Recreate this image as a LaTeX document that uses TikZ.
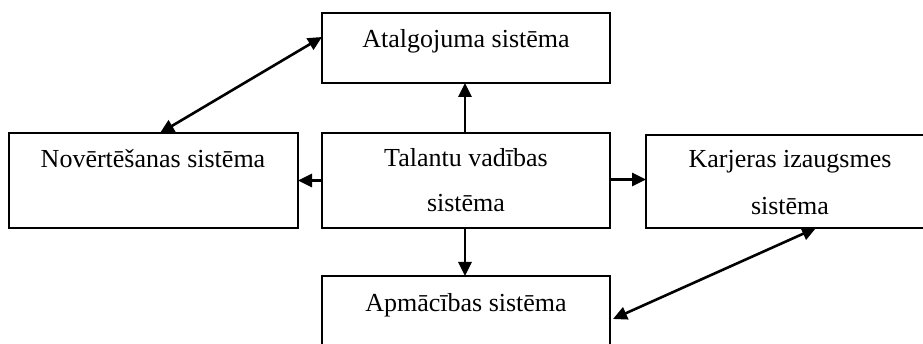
\documentclass[tikz,border=0pt]{standalone}
\usepackage{fontspec}
\setmainfont{Liberation Serif}
\usetikzlibrary{arrows.meta}
\begin{document}
\begin{tikzpicture}[x=1pt,y=-1pt,
  sysbox/.style={draw, line width=1.6pt, inner sep=0pt, outer sep=0pt, fill=white},
  label/.style={anchor=base, inner sep=0pt, font=\fontsize{26}{30}\selectfont},
  tip/.tip={Triangle[length=14pt,width=13pt]},
  link/.style={line width=2.6pt, -tip},
  both/.style={line width=2.6pt, tip-tip}]
  \useasboundingbox (0,0) rectangle (923,344);
  \clip (0,0) rectangle (923,344);

  % boxes
  \node[sysbox, minimum width=288pt, minimum height=70pt] (pay) at (466,48) {};
  \node[sysbox, minimum width=289pt, minimum height=95pt] (eval) at (153.5,180.5) {};
  \node[sysbox, minimum width=288pt, minimum height=95pt] (core) at (466,180.5) {};
  \node[sysbox, minimum width=288pt, minimum height=93pt] (career) at (790,181.5) {};
  \node[sysbox, minimum width=288pt, minimum height=74pt] (train) at (466,313) {};

  % texts
  \node[label] (payT) at (466,48) {Atalgojuma sistēma};
  \node[label] (evalT) at (153,168) {Novērtēšanas sistēma};
  \node[label] (coreT1) at (466,167) {Talantu vadības};
  \node[label] (coreT2) at (466,212) {sistēma};
  \node[label] (careerT1) at (790,168) {Karjeras izaugsmes};
  \node[label] (careerT2) at (790,215) {sistēma};
  \node[label] (trainT) at (466,312) {Apmācības sistēma};

  % connectors from the central system
  \draw[link] ([xshift=-1pt]core.north) -- ([xshift=-1pt]pay.south);
  \draw[link] ([xshift=-1pt]core.south) -- ([xshift=-1pt]train.north);
  \draw[link] (core.west) -- (core.west -| eval.east);
  \draw[link] ([yshift=1pt]core.east) -- ([yshift=1pt]core.east -| career.west);

  % mutual links (y shifts are in page direction: negative is downwards)
  \coordinate (evalTop) at ([xshift=151pt]eval.north west);
  \coordinate (payLeft) at ([yshift=-24pt]pay.north west);
  \draw[both] (evalTop) -- (payLeft);
  \coordinate (careerBot) at ([xshift=170pt]career.south west);
  \coordinate (trainRight) at ([xshift=3pt,yshift=-43pt]train.north east);
  \draw[both] (trainRight) -- (careerBot);
\end{tikzpicture}
\end{document}
